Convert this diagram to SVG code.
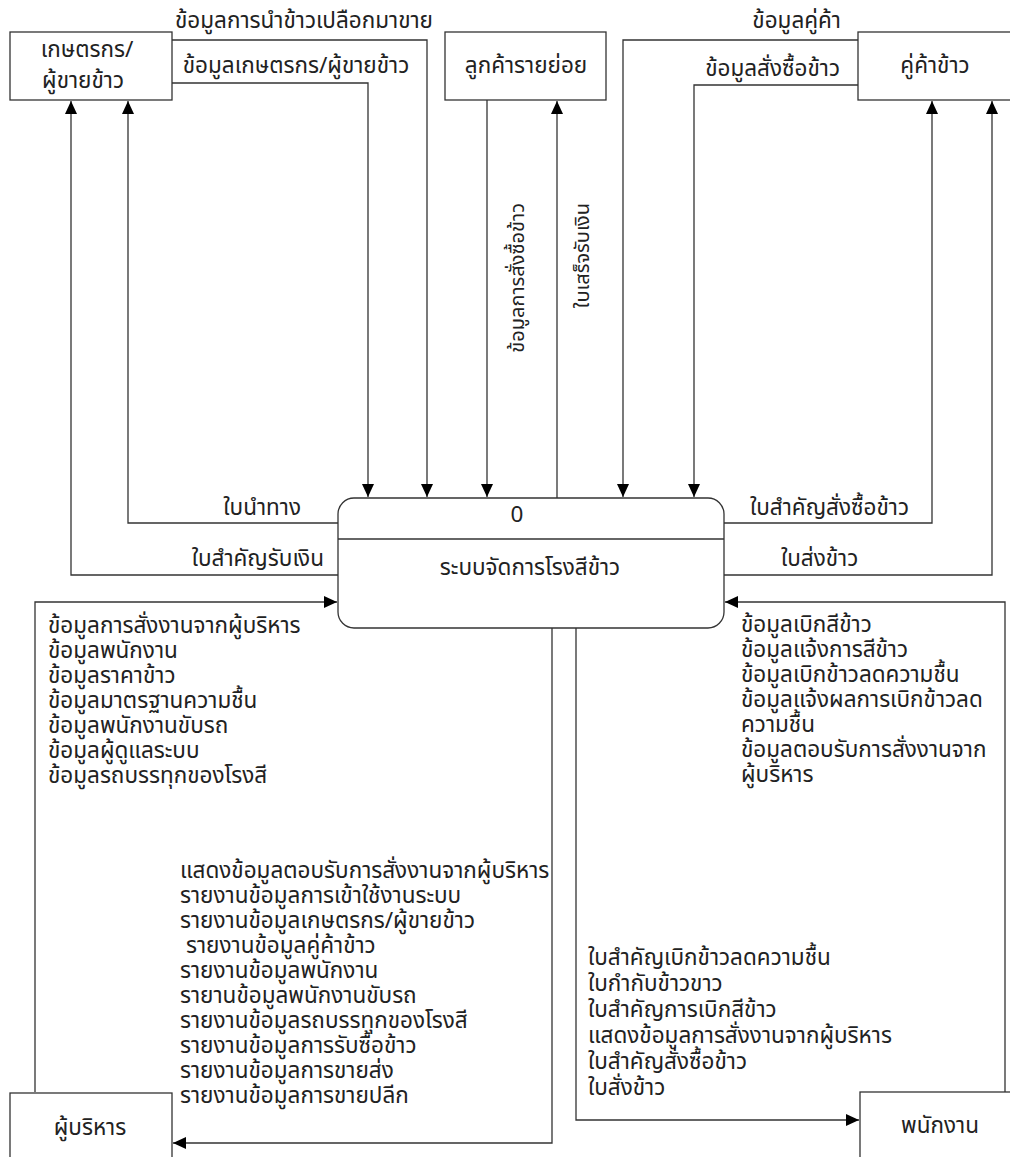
<svg xmlns="http://www.w3.org/2000/svg" width="1010" height="1157" viewBox="0 0 1010 1157">
<defs>
<style>
text{font-family:"Noto Sans Thai","Noto Sans","DejaVu Sans",sans-serif;font-size:22.5px;fill:#222;}
.v{font-size:20px;}
.box{fill:#fff;stroke:#333;stroke-width:1.3;}
.ln{fill:none;stroke:#333;stroke-width:1.3;}
.c{text-anchor:middle;}
.e{text-anchor:end;}
</style>
<marker id="ah" markerUnits="userSpaceOnUse" markerWidth="14" markerHeight="12" refX="13" refY="6" orient="auto">
<path d="M0,0 L13,6 L0,12 z" fill="#000"/>
</marker>
</defs>
<rect width="1010" height="1157" fill="#fff"/>
<g id="connectors">
<path class="ln" d="M172,40 H427 V497" marker-end="url(#ah)"/>
<path class="ln" d="M172,83 H368 V497" marker-end="url(#ah)"/>
<path class="ln" d="M487,100 V497" marker-end="url(#ah)"/>
<path class="ln" d="M557,498 V101" marker-end="url(#ah)"/>
<path class="ln" d="M858,40 H623 V497" marker-end="url(#ah)"/>
<path class="ln" d="M858,85 H694 V497" marker-end="url(#ah)"/>
<path class="ln" d="M338,523 H128 V101" marker-end="url(#ah)"/>
<path class="ln" d="M338,575 H71 V101" marker-end="url(#ah)"/>
<path class="ln" d="M724,523 H932 V101" marker-end="url(#ah)"/>
<path class="ln" d="M724,575 H992 V101" marker-end="url(#ah)"/>
<path class="ln" d="M35,1092 V602 H337" marker-end="url(#ah)"/>
<path class="ln" d="M1005,1092 V602 H725" marker-end="url(#ah)"/>
<path class="ln" d="M552,628 V1143 H173" marker-end="url(#ah)"/>
<path class="ln" d="M576,628 V1120 H859" marker-end="url(#ah)"/>
<text x="304" y="28" class="c">ข้อมูลการนำข้าวเปลือกมาขาย</text>
<text x="296" y="73" class="c">ข้อมูลเกษตรกร/ผู้ขายข้าว</text>
<text class="e v" transform="translate(524,203) rotate(-90)">ข้อมูลการสั่งซื้อข้าว</text>
<text class="e v" transform="translate(589,203) rotate(-90)">ใบเสร็จรับเงิน</text>
<text x="841" y="28" class="e">ข้อมูลคู่ค้า</text>
<text x="840" y="76" class="e">ข้อมูลสั่งซื้อข้าว</text>
<text x="301" y="515" class="e">ใบนำทาง</text>
<text x="324" y="566" class="e">ใบสำคัญรับเงิน</text>
<text x="750" y="515">ใบสำคัญสั่งซื้อข้าว</text>
<text x="781" y="566">ใบส่งข้าว</text>
<text x="48" y="633">ข้อมูลการสั่งงานจากผู้บริหาร</text>
<text x="48" y="658">ข้อมูลพนักงาน</text>
<text x="48" y="683">ข้อมูลราคาข้าว</text>
<text x="48" y="708">ข้อมูลมาตรฐานความชื้น</text>
<text x="48" y="733">ข้อมูลพนักงานขับรถ</text>
<text x="48" y="758">ข้อมูลผู้ดูแลระบบ</text>
<text x="48" y="783">ข้อมูลรถบรรทุกของโรงสี</text>
<text x="741" y="632">ข้อมูลเบิกสีข้าว</text>
<text x="741" y="657">ข้อมูลแจ้งการสีข้าว</text>
<text x="741" y="682">ข้อมูลเบิกข้าวลดความชื้น</text>
<text x="741" y="707">ข้อมูลแจ้งผลการเบิกข้าวลด</text>
<text x="741" y="732">ความชื้น</text>
<text x="741" y="757">ข้อมูลตอบรับการสั่งงานจาก</text>
<text x="741" y="782">ผู้บริหาร</text>
<text x="180" y="878">แสดงข้อมูลตอบรับการสั่งงานจากผู้บริหาร</text>
<text x="180" y="903">รายงานข้อมูลการเข้าใช้งานระบบ</text>
<text x="180" y="928">รายงานข้อมูลเกษตรกร/ผู้ขายข้าว</text>
<text x="186" y="953">รายงานข้อมูลคู่ค้าข้าว</text>
<text x="180" y="978">รายงานข้อมูลพนักงาน</text>
<text x="180" y="1003">รายานข้อมูลพนักงานขับรถ</text>
<text x="180" y="1028">รายงานข้อมูลรถบรรทุกของโรงสี</text>
<text x="180" y="1053">รายงานข้อมูลการรับซื้อข้าว</text>
<text x="180" y="1078">รายงานข้อมูลการขายส่ง</text>
<text x="180" y="1103">รายงานข้อมูลการขายปลีก</text>
<text x="588" y="965">ใบสำคัญเบิกข้าวลดความชื้น</text>
<text x="588" y="991">ใบกำกับข้าวขาว</text>
<text x="588" y="1017">ใบสำคัญการเบิกสีข้าว</text>
<text x="588" y="1043">แสดงข้อมูลการสั่งงานจากผู้บริหาร</text>
<text x="588" y="1069">ใบสำคัญสั่งซื้อข้าว</text>
<text x="588" y="1095">ใบสั่งข้าว</text>
</g>
<g id="farmer">
<rect class="box" x="10" y="32" width="162" height="68"/>
<text x="87" y="57" class="c">เกษตรกร/</text>
<text x="83" y="88" class="c">ผู้ขายข้าว</text>
</g>
<g id="retail">
<rect class="box" x="445" y="32" width="161" height="68"/>
<text x="526" y="73" class="c">ลูกค้ารายย่อย</text>
</g>
<g id="trader">
<rect class="box" x="858" y="32" width="160" height="68"/>
<text x="935" y="73" class="c">คู่ค้าข้าว</text>
</g>
<g id="process">
<rect class="box" x="338" y="498" width="386" height="130" rx="16" ry="16"/>
<line class="ln" x1="338" y1="539" x2="724" y2="539"/>
<text x="517" y="522" class="c">0</text>
<text x="530" y="575" class="c">ระบบจัดการโรงสีข้าว</text>
</g>
<g id="admin">
<rect class="box" x="10" y="1093" width="162" height="80"/>
<text x="90" y="1135" class="c">ผู้บริหาร</text>
</g>
<g id="staff">
<rect class="box" x="860" y="1092" width="160" height="80"/>
<text x="940" y="1133" class="c">พนักงาน</text>
</g>
</svg>
